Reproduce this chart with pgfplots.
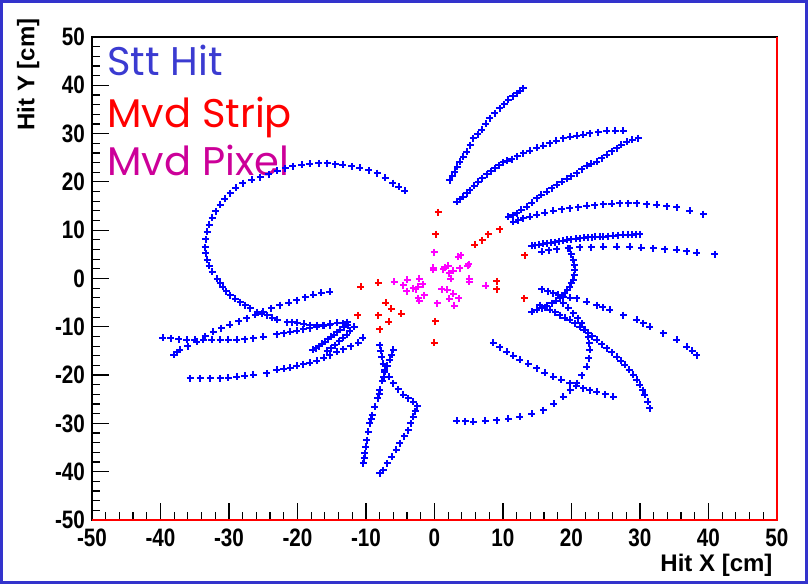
\documentclass[border=0pt]{standalone}
\usepackage{pgfplots}
\pgfplotsset{compat=1.18}
\usepackage{fontspec}
\setmainfont{Liberation Sans}
\newfontfamily\tickfont{Liberation Sans}[FakeStretch=0.82]
\newfontfamily\legfont{Poppins}
\definecolor{frameblue}{rgb}{0.2,0.2,0.8}
\definecolor{sttblue}{rgb}{0.23,0.23,0.82}
\definecolor{pixtext}{rgb}{0.8,0.0,0.6}
\definecolor{hitblue}{rgb}{0,0,1}
\definecolor{hitred}{rgb}{1,0,0}
\definecolor{hitmag}{rgb}{1,0,1}
\pgfplotsset{
  stt/.style={only marks, mark=+, mark size=1.75pt, mark options={line width=1.0pt}, color=hitblue},
  strip/.style={only marks, mark=+, mark size=1.75pt, mark options={line width=1.0pt}, color=hitred},
  pix/.style={only marks, mark=+, mark size=1.75pt, mark options={line width=1.0pt}, color=hitmag},
}
\begin{document}
\begin{tikzpicture}
\begin{axis}[
  scale only axis, width=342.5pt, height=241.5pt,
  xmin=-50, xmax=50, ymin=-50, ymax=50,
  clip=false,
  axis line style={black, line width=0.8pt},
  tick align=inside, tick pos=left,
  xtick={-50,-40,-30,-20,-10,0,10,20,30,40,50},
  ytick={-50,-40,-30,-20,-10,0,10,20,30,40,50},
  xticklabels={-50,-40,-30,-20,-10,0,10,20,30,40,50},
  yticklabels={-50,-40,-30,-20,-10,0,10,20,30,40,50},
  minor tick num=4,
  major tick length=8.5pt, minor tick length=4.2pt,
  tick style={black, line width=0.6pt},
  ticklabel style={font=\tickfont\bfseries\fontsize{12.6}{13}\selectfont},
  xticklabel style={yshift=-1pt},
]
% Stt hits
\addplot[stt] coordinates {(-4.31,18.12)(-5.2,19.0)(-6.06,19.77)(-7.2,20.9)(-8.39,21.84)(-9.6,22.4)(-10.88,22.88)(-12.1,23.2)(-13.36,23.5)(-14.5,23.7)(-15.69,23.91)(-16.9,23.85)(-18.18,23.71)(-19.4,23.5)(-20.66,23.29)(-21.8,22.8)(-22.99,22.26)(-24.2,21.6)(-25.47,21.01)(-26.7,20.4)(-27.96,19.77)(-29.0,18.8)(-29.85,17.70)(-30.6,16.5)(-31.31,15.22)(-31.9,13.9)(-32.48,12.53)(-32.9,11.1)(-33.21,9.63)(-33.4,8.1)(-33.50,6.52)(-33.4,5.2)(-33.21,3.83)(-32.9,2.6)(-32.48,1.35)(-31.75,-0.10)(-31.3,-0.9)(-30.88,-1.76)(-30.4,-2.6)(-29.85,-3.42)(-29.1,-4.2)(-28.39,-4.87)(-27.6,-5.5)(-26.93,-6.11)(-25.91,-6.94)(-25.2,-7.25)(-24.45,-7.56)(-23.7,-8.1)(-22.99,-8.59)(-21.53,-9.01)(-20.8,-9.1)(-20.07,-9.21)(-19.1,-9.4)(-18.18,-9.63)(-17.2,-9.63)(-16.28,-9.63)(-15.2,-9.4)(-14.23,-9.21)(-12.77,-9.01)};
\addplot[stt] coordinates {(-38.1,-15.8)(-37.6,-15.3)(-37.2,-14.8)(-36.0,-14.0)(-34.7,-13.1)(-33.5,-12.0)(-32.3,-11.0)(-31.1,-10.3)(-29.9,-9.6)(-28.6,-8.9)(-27.4,-8.2)(-26.2,-7.5)(-25.0,-6.9)(-23.8,-6.2)(-22.6,-5.5)(-21.3,-5.0)(-20.1,-4.5)(-18.9,-3.9)(-17.7,-3.4)(-16.5,-3.0)(-15.3,-2.7)};
\addplot[stt] coordinates {(-39.64,-12.32)(-38.5,-12.4)(-37.3,-12.6)(-36.18,-12.73)(-35.0,-12.73)(-33.75,-12.73)(-32.5,-12.73)(-31.31,-12.73)(-30.1,-12.73)(-28.88,-12.73)(-27.7,-12.55)(-26.45,-12.38)(-24.99,-12.05)(-23.04,-11.55)(-22.0,-11.3)(-21.09,-11.01)(-20.1,-10.8)(-19.15,-10.52)(-18.2,-10.25)(-17.20,-9.98)(-16.2,-9.8)(-15.26,-9.63)(-13.31,-9.28)};
\addplot[stt] coordinates {(-17.74,-14.80)(-17.3,-14.4)(-16.9,-14.0)(-16.42,-13.56)(-16.0,-13.1)(-15.5,-12.6)(-15.11,-12.11)(-14.7,-11.6)(-14.2,-11.1)(-13.80,-10.66)(-13.2,-10.1)(-12.63,-9.63)};
\addplot[stt] coordinates {(-15.69,-15.01)(-15.1,-14.4)(-14.53,-13.77)(-13.9,-13.0)(-13.36,-12.32)(-12.8,-11.6)(-12.34,-10.87)(-11.75,-10.04)};
\addplot[stt] coordinates {(-35.69,-20.66)(-34.23,-20.66)(-32.77,-20.66)(-31.31,-20.66)(-30.1,-20.5)(-28.88,-20.33)(-27.7,-20.15)(-26.45,-19.98)(-24.50,-19.63)(-23.04,-18.94)(-22.0,-18.7)(-21.09,-18.47)(-20.1,-18.1)(-19.15,-17.76)(-18.2,-17.4)(-17.20,-17.08)(-16.2,-16.4)(-15.26,-15.84)(-14.3,-15.2)(-13.31,-14.66)(-12.2,-14.0)(-11.12,-13.29)(-10.44,-12.32)};
\addplot[stt] coordinates {(-6.01,-14.80)(-6.25,-15.8)(-6.50,-16.87)(-6.9,-18.1)(-7.23,-19.30)(-7.4,-20.3)(-7.6,-21.2)(-7.96,-23.08)(-8.1,-24.0)(-8.3,-24.8)(-8.69,-26.54)(-9.05,-28.3)(-9.2,-29.1)(-9.42,-29.98)(-9.65,-31.7)(-9.90,-33.44)(-10.0,-34.8)(-10.15,-36.19)(-10.25,-37.2)(-10.39,-38.26)};
\addplot[stt] coordinates {(-7.96,-13.77)(-7.85,-15.0)(-7.71,-16.19)(-7.5,-17.6)(-7.23,-18.94)(-6.6,-20.3)(-6.01,-21.70)(-5.3,-22.9)(-4.55,-24.12)(-3.8,-24.8)(-3.09,-25.51)(-2.51,-26.40)(-2.8,-27.5)(-3.09,-28.61)(-3.45,-30.0)(-3.82,-31.37)(-4.4,-32.7)(-5.04,-34.12)(-5.6,-35.5)(-6.25,-36.89)(-6.9,-38.3)(-7.47,-39.65)(-7.96,-40.33)};
\addplot[stt] coordinates {(2.26,20.39)(2.6,21.2)(2.99,22.11)(3.35,23.1)(3.72,24.18)(4.2,25.2)(4.70,26.25)(5.2,27.6)(5.66,29.03)(6.3,29.9)(6.89,30.75)(7.5,32.0)(8.10,33.17)(8.8,34.2)(9.56,35.24)(10.2,36.1)(10.77,36.96)(11.4,37.7)(12.0,38.34)(12.5,38.9)(12.96,39.38)};
\addplot[stt] coordinates {(3.24,15.90)(3.7,16.4)(4.21,16.94)(4.7,17.6)(5.18,18.32)(5.8,19.2)(6.39,20.04)(7.0,20.8)(7.62,21.57)(8.2,22.2)(8.83,22.81)(9.4,23.4)(10.04,24.06)(10.6,24.4)(11.27,24.74)(12.1,25.3)(12.96,25.92)(13.9,26.5)(14.91,27.08)(15.9,27.5)(16.86,27.99)(17.8,28.5)(18.81,29.03)(19.8,29.3)(20.76,29.56)(21.7,29.8)(22.70,30.06)(23.9,30.3)(25.14,30.54)(26.4,30.54)(27.58,30.54)};
\addplot[stt] coordinates {(10.77,12.80)(11.4,13.1)(12.0,13.50)(12.7,14.2)(13.46,14.87)(14.2,15.7)(14.92,16.60)(15.6,17.3)(16.38,17.97)(17.1,18.7)(17.84,19.36)(18.6,20.0)(19.30,20.60)(20.0,21.2)(20.76,21.78)(21.5,22.6)(22.22,23.35)(22.9,23.8)(23.68,24.18)(24.4,24.9)(25.14,25.57)(25.9,26.3)(26.60,26.96)(27.3,27.7)(28.06,28.34)(28.9,28.7)(29.75,29.05)};
\addplot[stt] coordinates {(11.50,11.76)(12.2,12.1)(12.96,12.46)(13.9,12.8)(14.92,13.15)(16.1,13.6)(17.34,13.98)(18.6,14.3)(19.78,14.53)(21.0,14.8)(22.22,15.01)(23.4,15.2)(24.64,15.36)(25.9,15.5)(27.08,15.57)(28.3,15.57)(29.52,15.57)(31.0,15.4)(32.44,15.22)(33.9,15.0)(35.36,14.74)(37.30,14.04)(39.24,13.35)};
\addplot[stt] coordinates {(14.19,6.73)(14.7,6.85)(15.3,7.0)(15.8,7.15)(16.38,7.29)(17.0,7.4)(17.6,7.55)(18.2,7.7)(18.80,7.83)(19.4,8.0)(20.0,8.1)(20.6,8.2)(21.24,8.32)(21.8,8.4)(22.4,8.5)(23.0,8.55)(23.5,8.6)(24.1,8.62)(24.64,8.65)(25.4,8.75)(26.1,8.85)(26.8,8.95)(27.56,9.01)(28.2,9.05)(28.8,9.1)(29.4,9.15)(30.0,9.21)};
\addplot[stt] coordinates {(15.65,5.55)(16.7,5.8)(17.84,6.05)(19.5,6.25)(21.24,6.46)(22.9,6.5)(24.64,6.58)(26.6,6.58)(28.54,6.58)(30.2,6.4)(31.94,6.25)(33.6,6.1)(35.36,5.90)(36.8,5.6)(38.28,5.34)(40.95,5.07)};
\addplot[stt] coordinates {(19.78,6.25)(20.0,5.0)(20.26,3.83)(20.4,2.8)(20.51,1.76)(20.4,0.7)(20.26,-0.31)(20.0,-1.0)(19.78,-1.70)(19.4,-2.4)(19.05,-3.06)(18.7,-3.6)(18.32,-4.10)(17.7,-4.6)(17.11,-5.13)(16.4,-5.65)(15.65,-6.17)(14.9,-6.5)(14.19,-6.87)};
\addplot[stt] coordinates {(15.65,-2.24)(16.5,-2.6)(17.34,-3.06)(18.1,-3.4)(18.80,-3.77)(19.8,-3.95)(20.76,-4.10)(22.22,-4.80)(23.68,-5.49)(24.6,-6.0)(25.62,-6.52)(27.56,-7.56)(29.52,-8.59)(30.5,-9.3)(31.46,-9.98)(33.40,-11.35)(35.36,-12.73)(36.82,-14.12)(37.6,-15.0)(38.28,-15.84)};
\addplot[stt] coordinates {(15.40,-5.49)(16.1,-6.0)(16.86,-6.52)(17.6,-7.0)(18.32,-7.56)(19.05,-8.1)(19.78,-8.59)(20.5,-9.3)(21.24,-9.98)(21.8,-10.6)(22.45,-11.35)(23.0,-12.0)(23.68,-12.73)(24.4,-13.6)(25.14,-14.45)(25.9,-15.3)(26.60,-16.19)(27.2,-17.0)(27.81,-17.91)(28.4,-18.9)(29.02,-19.98)(29.5,-21.0)(30.0,-22.05)(30.4,-23.1)(30.73,-24.12)(31.1,-25.5)(31.46,-26.87)};
\addplot[stt] coordinates {(3.28,-29.50)(4.5,-29.6)(5.66,-29.65)(7.4,-29.5)(9.08,-29.30)(10.8,-29.0)(12.48,-28.61)(14.2,-28.0)(15.88,-27.23)(17.4,-25.9)(18.80,-24.47)(19.8,-23.1)(20.76,-21.70)(21.5,-20.0)(22.22,-18.26)(22.5,-16.5)(22.70,-14.80)(22.6,-13.4)(22.45,-12.05)(22.0,-10.6)(21.49,-9.28)(20.9,-8.2)(20.26,-7.20)(19.5,-6.1)(18.80,-5.13)};
\addplot[stt] coordinates {(8.58,-13.29)(9.5,-14.2)(10.54,-15.16)(11.5,-16.0)(12.48,-16.87)(13.7,-17.7)(14.92,-18.59)(16.1,-19.5)(17.34,-20.33)(18.5,-21.0)(19.78,-21.70)(20.7,-22.2)(21.72,-22.73)(22.7,-23.1)(23.68,-23.44)(24.9,-24.0)(26.11,-24.47)};
% Mvd strip
\addplot[strip] coordinates {(0.55,13.71)(0.18,9.21)(9.56,10.19)(7.85,9.21)(6.98,7.91)(5.87,7.00)(13.17,4.80)(-10.77,-1.70)(-8.20,-0.93)(9.08,-0.58)(9.08,-2.24)(13.11,-4.10)(-7.12,-5.07)(-6.31,-6.31)(-4.85,-7.35)(-11.17,-7.62)(-8.20,-7.62)(-6.69,-8.94)(0.12,-8.86)(-7.96,-10.46)(-0.07,-13.35)};
% Mvd pixel
\addplot[pix] coordinates {(-0.07,5.42)(3.47,4.51)(3.82,4.80)(-0.18,2.24)(-0.18,1.76)(1.53,2.32)(2.01,2.59)(1.28,1.90)(2.16,1.08)(2.74,1.61)(3.72,2.17)(4.85,2.59)(4.99,3.00)(2.41,-0.04)(5.08,-0.04)(5.08,-0.72)(-5.87,-0.66)(-3.97,-0.31)(-2.22,-0.04)(-4.55,-1.35)(-3.09,-2.03)(-2.36,-1.70)(-1.72,-1.14)(-4.06,-2.59)(-2.70,-2.24)(7.52,-1.55)(1.05,-2.24)(1.87,-2.38)(2.74,-3.21)(-1.53,-3.48)(-2.36,-4.10)(-2.22,-4.60)(2.16,-4.18)(3.53,-4.10)(0.41,-5.13)(2.89,-5.69)};
\draw[hitred, line width=0.9pt] (rel axis cs:0,0) -- (rel axis cs:1,0) -- (rel axis cs:1,1);
\node[anchor=base west, inner sep=0pt, font=\legfont\fontsize{20}{22}\selectfont, text=sttblue] at (axis cs:-47.8,42.1) {Stt Hit};
\node[anchor=base west, inner sep=0pt, font=\legfont\fontsize{20}{22}\selectfont, text=hitred] at (axis cs:-47.8,31.2) {Mvd Strip};
\node[anchor=base west, inner sep=0pt, font=\legfont\fontsize{20}{22}\selectfont, text=pixtext] at (axis cs:-47.8,21.4) {Mvd Pixel};
\node[rotate=90, anchor=east, inner sep=0pt, font=\bfseries\fontsize{12}{13}\selectfont] at (axis cs:-59.3,53.9) {Hit Y [cm]};
\node[anchor=east, inner sep=0pt, font=\bfseries\fontsize{12}{13}\selectfont] at (axis cs:49.4,-59.3) {Hit X [cm]};
\coordinate (BL) at (axis cs:-63.43,-63.25);
\coordinate (TR) at (axis cs:54.53,57.66);
\end{axis}
\pgfresetboundingbox
\path[use as bounding box] (BL) rectangle (TR);
\draw[frameblue, line width=1.5pt] ([shift={(0.75pt,0.75pt)}]BL) rectangle ([shift={(-0.75pt,-0.75pt)}]TR);
\end{tikzpicture}
\end{document}
